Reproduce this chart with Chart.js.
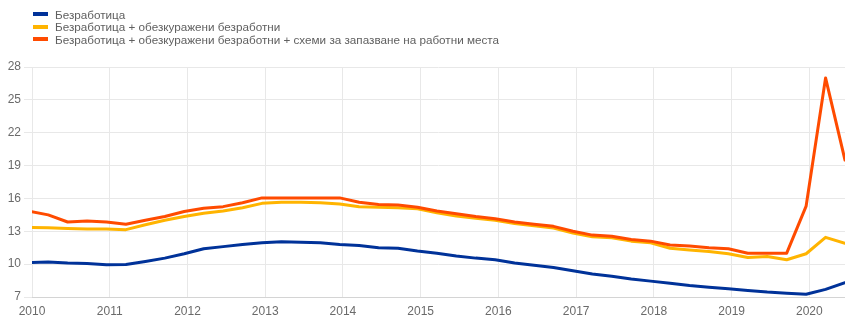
<!DOCTYPE html>
<html><head><meta charset="utf-8">
<script src="https://cdn.jsdelivr.net/npm/chart.js@4"></script>
<style>
html,body{margin:0;padding:0;background:#fff;}
#wrap{position:relative;width:845px;height:317px;overflow:hidden;}
#legend{position:absolute;left:33px;top:8px;font-family:"Liberation Sans",Arial,sans-serif;font-size:11.7px;color:#606060;}
.item{display:flex;align-items:center;height:12.6px;white-space:nowrap;}
.sw{width:15px;height:4px;margin-right:7px;}
</style></head><body>
<div id="wrap"><canvas id="c" width="845" height="317"></canvas><div id="legend"></div></div>
<script>
const quarters = ['2009Q4',
 '2010Q1','2010Q2','2010Q3','2010Q4','2011Q1','2011Q2','2011Q3','2011Q4',
 '2012Q1','2012Q2','2012Q3','2012Q4','2013Q1','2013Q2','2013Q3','2013Q4',
 '2014Q1','2014Q2','2014Q3','2014Q4','2015Q1','2015Q2','2015Q3','2015Q4',
 '2016Q1','2016Q2','2016Q3','2016Q4','2017Q1','2017Q2','2017Q3','2017Q4',
 '2018Q1','2018Q2','2018Q3','2018Q4','2019Q1','2019Q2','2019Q3','2019Q4',
 '2020Q1','2020Q2'];
const unemployment = [10.15,
 10.2,10.1,10.05,9.95, 9.97,10.25,10.55,10.95,
 11.4,11.6,11.8,11.95, 12.05,12.0,11.95,11.8,
 11.7,11.5,11.45,11.2, 11.0,10.75,10.55,10.4,
 10.1,9.9,9.7,9.4, 9.1,8.9,8.65,8.45,
 8.25,8.05,7.9,7.75, 7.6,7.45,7.35,7.25,
 7.7,8.3];
const plusDiscouraged = [13.35,
 13.33,13.25,13.2,13.2, 13.15,13.6,14.0,14.35,
 14.65,14.85,15.15,15.55, 15.65,15.65,15.6,15.5,
 15.25,15.2,15.15,15.05, 14.7,14.4,14.2,14.0,
 13.7,13.5,13.3,12.85, 12.5,12.4,12.1,11.95,
 11.45,11.3,11.15,10.95, 10.6,10.7,10.4,10.95,
 12.45,11.9];
const plusSchemes = [14.85,
 14.5,13.85,13.95,13.85, 13.65,14.0,14.35,14.8,
 15.1,15.25,15.6,16.05, 16.05,16.05,16.05,16.05,
 15.65,15.45,15.4,15.2, 14.85,14.6,14.35,14.15,
 13.85,13.65,13.45,13.0, 12.65,12.55,12.25,12.1,
 11.75,11.65,11.5,11.4, 11.0,11.0,11.0,15.3,
 27.0,19.5];
const yTicks = [7,10,13,16,19,22,25,28];
const xYears = [2010,2011,2012,2013,2014,2015,2016,2017,2018,2019,2020];
const seriesNames = ['Безработица',
 'Безработица + обезкуражени безработни',
 'Безработица + обезкуражени безработни + схеми за запазване на работни места'];
const seriesColors = ['#003299','#FFB400','#FF4B00'];

// position each quarter at the middle of its last month
const xPos = quarters.map(q => {
  const y = parseInt(q.slice(0,4),10), n = parseInt(q.slice(5),10);
  return y + (3*n - 0.5)/12;
});
const toPts = arr => arr.map((v,i) => ({x: xPos[i], y: v}));
const seriesData = [unemployment, plusDiscouraged, plusSchemes];

const leg = document.getElementById('legend');
seriesNames.forEach((n,i) => {
  const d = document.createElement('div'); d.className='item';
  const s = document.createElement('span'); s.className='sw'; s.style.background=seriesColors[i];
  const t = document.createElement('span'); t.textContent = n;
  d.appendChild(s); d.appendChild(t); leg.appendChild(d);
});

const tickFont = {family:'"Liberation Sans", Arial, sans-serif', size:12};
new Chart(document.getElementById('c'), {
  type:'line',
  data:{datasets: seriesData.map((arr,i)=>({
    label: seriesNames[i], data: toPts(arr), borderColor: seriesColors[i],
    backgroundColor: seriesColors[i], borderWidth: 3, pointRadius: 0, tension: 0,
    fill:false, order: 2-i, borderJoinStyle:'round', borderCapStyle:'round'
  }))},
  options:{
    responsive:false, animation:false, devicePixelRatio:1,
    layout:{padding:{top:67, left:0, right:0, bottom:0}},
    plugins:{legend:{display:false}, tooltip:{enabled:false}},
    scales:{
      x:{type:'linear', min:2010, max:xPos[xPos.length-1],
        afterBuildTicks: a => { a.ticks = xYears.map(v=>({value:v})); },
        afterFit: s => { s.height = 20; },
        ticks:{callback: v => String(v), color:'#6a6a6a', font:tickFont, padding:7, maxRotation:0, autoSkip:false},
        grid:{color:'#e8e8e8', drawTicks:false},
        border:{color:'#d4d4d4'}
      },
      y:{min:7, max:28,
        afterBuildTicks: a => { a.ticks = yTicks.map(v=>({value:v})); },
        afterFit: s => { s.width = 32; },
        ticks:{color:'#6a6a6a', font:tickFont, padding:3},
        grid:{color:'#e8e8e8', tickLength:8, tickColor:'#e8e8e8'},
        border:{display:false}
      }
    }
  }
});
</script>
</body></html>
